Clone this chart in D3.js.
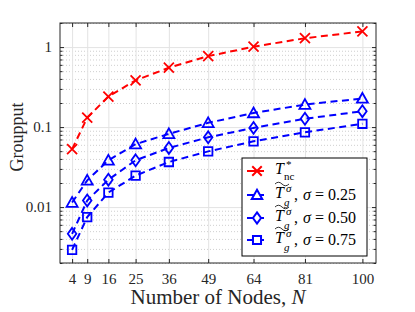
<!DOCTYPE html>
<html>
  <head>
    <script src="https://cdn.jsdelivr.net/npm/d3@7"></script>
    <style>
      html, body { margin: 0; padding: 0; background: #fff; }
      svg { display: block; }
      .axis text { font-family: "Liberation Serif", serif; font-size: 15px; fill: #262626; }
      .axis line { stroke: #262626; }
      .axis .domain { display: none; }
      .grid line { stroke: #e3e3e3; stroke-width: 1; }
      .grid .domain { display: none; }
      .minor line { stroke: #cfcfcf; stroke-dasharray: 1,2; }
      .label { font-family: "Liberation Serif", serif; font-size: 21px; fill: #262626; }
      .leg { font-family: "Liberation Serif", serif; font-size: 16px; fill: #000; }
      .sm { font-family: "Liberation Serif", serif; font-size: 11px; fill: #000; }
    </style>
  </head>
  <body>
    <svg width="415" height="312"></svg>
    <script>
      const nodes = [4, 9, 16, 25, 36, 49, 64, 81, 100];
      const tnc = [0.053, 0.131, 0.241, 0.383, 0.552, 0.771, 1.01, 1.29, 1.57];
      const tg25 = [0.0114, 0.0216, 0.0384, 0.0612, 0.0822, 0.113, 0.150, 0.191, 0.228];
      const tg50 = [0.00463, 0.0121, 0.022, 0.0384, 0.0549, 0.0745, 0.0977, 0.127, 0.158];
      const tg75 = [0.00292, 0.0075, 0.0152, 0.0247, 0.0366, 0.0497, 0.0664, 0.0861, 0.110];
      const yTicks = [0.01, 0.1, 1];
      const sigmas = ["0.25", "0.50", "0.75"];

      const margin = {top: 23, right: 39, bottom: 49, left: 60};
      const svg = d3.select("svg");
      const width = +svg.attr("width");
      const height = +svg.attr("height");
      const innerWidth = width - margin.left - margin.right;
      const innerHeight = height - margin.top - margin.bottom;

      const xScale = d3.scaleLinear().domain([0, 104.5]).range([0, innerWidth]);
      const yScale = d3.scaleLog().domain([0.002, 2]).range([innerHeight, 0]);

      const minorTicks = [];
      [0.001, 0.01, 0.1, 1].forEach(dec => {
        for (let k = 2; k <= 9; k++) {
          const v = dec * k;
          if (v >= 0.002 && v <= 2) minorTicks.push(v);
        }
      });

      const noText = sel => sel.selectAll("text").remove();

      const g = svg.append("g")
          .attr("transform", `translate(${margin.left}, ${margin.top})`);

      // grid
      g.append("g").attr("class", "grid minor")
          .call(d3.axisLeft(yScale).tickValues(minorTicks).tickSize(-innerWidth)).call(noText);
      g.append("g").attr("class", "grid")
          .call(d3.axisLeft(yScale).tickValues(yTicks).tickSize(-innerWidth)).call(noText);
      g.append("g").attr("class", "grid")
          .attr("transform", `translate(0, ${innerHeight})`)
          .call(d3.axisBottom(xScale).tickValues(nodes).tickSize(-innerHeight)).call(noText);

      // axes, ticks pointing inward on every side
      g.append("g").attr("class", "axis")
          .attr("transform", `translate(0, ${innerHeight})`)
          .call(d3.axisBottom(xScale).tickValues(nodes).tickSize(-4).tickPadding(10));
      g.append("g").attr("class", "axis")
          .call(d3.axisTop(xScale).tickValues(nodes).tickSize(-4)).call(noText);
      g.append("g").attr("class", "axis")
          .call(d3.axisLeft(yScale).tickValues(yTicks).tickSize(-4).tickPadding(8).tickFormat(d => d));
      g.append("g").attr("class", "axis")
          .call(d3.axisLeft(yScale).tickValues(minorTicks).tickSize(-2.5)).call(noText);
      g.append("g").attr("class", "axis")
          .attr("transform", `translate(${innerWidth}, 0)`)
          .call(d3.axisRight(yScale).tickValues(yTicks).tickSize(-4)).call(noText);
      g.append("g").attr("class", "axis")
          .attr("transform", `translate(${innerWidth}, 0)`)
          .call(d3.axisRight(yScale).tickValues(minorTicks).tickSize(-2.5)).call(noText);

      g.append("rect")
          .attr("width", innerWidth).attr("height", innerHeight)
          .attr("fill", "none").attr("stroke", "#262626").attr("stroke-width", 1);

      // marker shapes
      const xMark = {draw(c, s) { const r = Math.sqrt(s) / 2; c.moveTo(-r, -r); c.lineTo(r, r); c.moveTo(-r, r); c.lineTo(r, -r); }};
      const triMark = {draw(c, s) { const r = Math.sqrt(s) / 2; c.moveTo(0, -r * 1.1); c.lineTo(r * 1.1, r * 0.85); c.lineTo(-r * 1.1, r * 0.85); c.closePath(); }};
      const diaMark = {draw(c, s) { const r = Math.sqrt(s) / 2; c.moveTo(0, -r * 1.25); c.lineTo(r * 0.9, 0); c.lineTo(0, r * 1.25); c.lineTo(-r * 0.9, 0); c.closePath(); }};
      const sqMark = {draw(c, s) { const r = Math.sqrt(s) / 2; c.moveTo(-r, -r); c.lineTo(r, -r); c.lineTo(r, r); c.lineTo(-r, r); c.closePath(); }};

      const series = [
        {values: tnc, color: "#ff0000", mark: xMark, size: 100},
        {values: tg25, color: "#0000ff", mark: triMark, size: 100},
        {values: tg50, color: "#0000ff", mark: diaMark, size: 90},
        {values: tg75, color: "#0000ff", mark: sqMark, size: 72}
      ];

      const line = d3.line()
          .x((d, i) => xScale(nodes[i]))
          .y(d => yScale(d));

      series.forEach(s => {
        g.append("path")
            .datum(s.values)
            .attr("d", line)
            .attr("fill", "none")
            .attr("stroke", s.color)
            .attr("stroke-width", 2)
            .attr("stroke-dasharray", "7,4.5");
        g.selectAll(null).data(s.values).enter().append("path")
            .attr("transform", (d, i) => `translate(${xScale(nodes[i])}, ${yScale(d)})`)
            .attr("d", d3.symbol().type(s.mark).size(s.size))
            .attr("fill", "none")
            .attr("stroke", s.color)
            .attr("stroke-width", 1.8);
      });

      // axis labels
      const xl = svg.append("text").attr("class", "label")
          .attr("x", margin.left + innerWidth / 2).attr("y", 304)
          .attr("text-anchor", "middle");
      xl.append("tspan").text("Number of Nodes, ");
      xl.append("tspan").attr("font-style", "italic").text("N");

      svg.append("text").attr("class", "label")
          .style("font-size", "18px")
          .attr("transform", `translate(23, 137) rotate(-90)`)
          .attr("text-anchor", "middle")
          .text("Groupput");

      // legend
      const leg = svg.append("g").attr("transform", "translate(242, 158)");
      leg.append("rect")
          .attr("width", 125).attr("height", 98)
          .attr("fill", "#fff").attr("stroke", "#000").attr("stroke-width", 1);
      const rowY = [13, 37, 60, 82];
      series.forEach((s, i) => {
        const row = leg.append("g").attr("transform", `translate(0, ${rowY[i]})`);
        row.append("line").attr("x1", 5).attr("x2", 22)
            .attr("stroke", s.color).attr("stroke-width", 2);
        row.append("path").attr("transform", "translate(15, 0)")
            .attr("d", d3.symbol().type(s.mark).size(s.size * 0.9))
            .attr("fill", i === 0 ? "none" : "#fff")
            .attr("stroke", s.color).attr("stroke-width", 2);
        row.append("text").attr("class", "leg").attr("font-style", "italic")
            .attr("x", 33).attr("y", 3).text("T");
        if (i === 0) {
          row.append("text").attr("class", "sm").attr("x", 44).attr("y", -3).text("*");
          row.append("text").attr("class", "sm").attr("x", 42).attr("y", 9).text("nc");
        } else {
          row.append("text").attr("class", "sm").attr("font-style", "italic")
              .attr("x", 44).attr("y", -3).text("σ");
          row.append("text").attr("class", "sm").attr("font-style", "italic")
              .attr("x", 42).attr("y", 11).text("g");
          row.append("text").attr("class", "leg").attr("x", 52).attr("y", 5)
              .text(",");
          row.append("text").attr("class", "leg").attr("font-style", "italic")
              .attr("x", 61).attr("y", 5).text("σ");
          row.append("text").attr("class", "leg").attr("x", 73).attr("y", 5)
              .text("= " + sigmas[i - 1]);
          row.append("path")
              .attr("d", "M33,-11 Q36.5,-14.5 40,-11 T47,-11")
              .attr("fill", "none").attr("stroke", "#000").attr("stroke-width", 0.8);
        }
      });
    </script>
  </body>
</html>
